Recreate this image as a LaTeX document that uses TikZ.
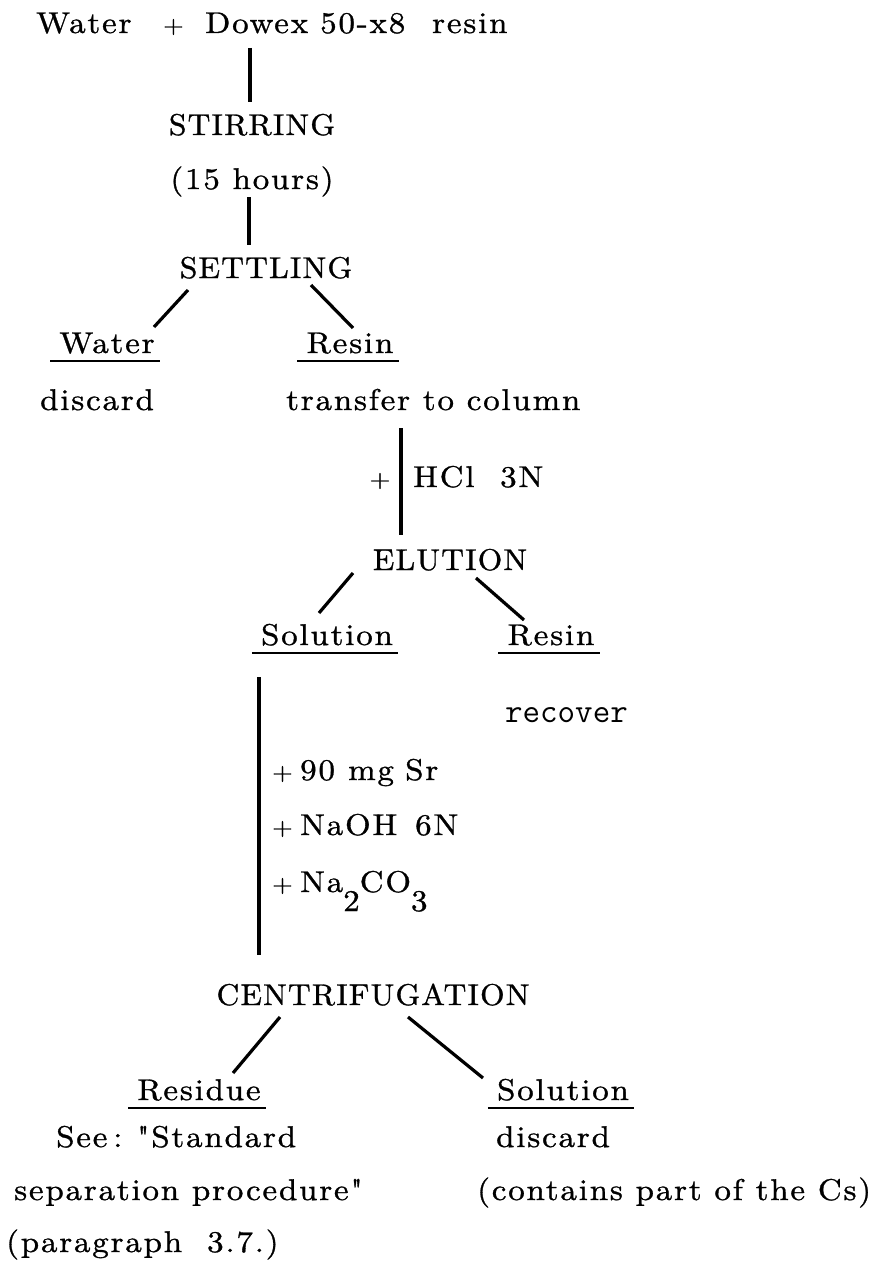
\documentclass[tikz,border=0pt]{standalone}
\usepackage{fontspec}
% wide, slightly heavy typewriter-like faces for the body text and the step headings
\setmainfont{lmroman10-regular.otf}[FakeStretch=1.1,LetterSpace=6,FakeBold=1,Ligatures=TeXOff]
\newfontfamily\headfont{lmroman10-regular.otf}[FakeStretch=1.05,LetterSpace=4,FakeBold=1]
% the small plus sign used before added reagents
\newcommand{\addsign}{{\fontsize{24}{28}\selectfont+}}
\begin{document}
\begin{tikzpicture}[x=1pt,y=-1pt,
  txt/.style={inner sep=0pt,anchor=base,font=\fontsize{30}{35}\selectfont},
  txtl/.style={txt,anchor=base west},
  head/.style={inner sep=0pt,anchor=base,font=\headfont\fontsize{30}{36}\selectfont},
  mono/.style={inner sep=0pt,anchor=base west,font=\ttfamily\fontsize{34}{40}\selectfont},
  link/.style={line width=3.2pt},
  uline/.style={line width=1.8pt}]
\useasboundingbox (0,0) rectangle (875,1279);

% ---- starting material and first steps
\node[txtl] (feed) at (36,33)
  {\makebox[127pt][l]{Water}\makebox[42pt][l]{\addsign}\makebox[115pt][l]{Dowex}\makebox[112pt][l]{50-x8}resin};
\node[head] (stir) at (252,135) {STIRRING};
\node[txt]  (time) at (252,189) {(15 hours)};
\node[head] (settle) at (266,278) {SETTLING};

% ---- settling products
\node[txt]  (water) at (107,353) {Water};
\node[txt]  (resinA) at (350,353) {Resin};
\node[txtl] (discA) at (40,410) {discard};
\node[txtl] (column) at (286,410) {transfer to column};

% ---- elution
\node[txt]  (plusA) at (380,487) {\addsign};
\node[txtl] (hcl) at (413,487) {\makebox[87pt][l]{HCl}3N};
\node[head] (elute) at (450,570) {ELUTION};

% ---- elution products
\node[txt]  (solA) at (327,645) {Solution};
\node[txt]  (resinB) at (551,645) {Resin};
\node[mono] (recov) at (505,722) {recover};

% ---- reagents added to the solution
\node[txtl] (sr) at (272,780)
  {\makebox[28pt][l]{\addsign}\makebox[48pt][l]{90}\makebox[57pt][l]{mg}Sr};
\node[txtl] (naoh) at (272,835)
  {\makebox[28pt][l]{\addsign}\makebox[115pt][l]{NaOH}6N};
\node[txtl] (carb) at (272,892)
  {\makebox[28pt][l]{\addsign}Na\raisebox{-19pt}{2}CO\raisebox{-19pt}{3}};

% ---- centrifugation
\node[head] (centri) at (373,1005) {CENTRIFUGATION};
\node[txt]  (resid) at (199,1100) {Residue};
\node[txt]  (solB) at (563,1100) {Solution};
\node[txtl] (seeA) at (56,1147)
  {\makebox[57pt][l]{See}\makebox[24pt][l]{:}"Standard};
\node[txtl] (seeB) at (14,1200) {separation procedure"};
\node[txtl] (seeC) at (6,1252) {\makebox[201pt][l]{(paragraph}3.7.)};
\node[txtl] (discB) at (496,1147) {discard};
\node[txtl] (cs) at (477,1200) {(contains part of the Cs)};

% ---- underlines of the product labels
\foreach \n in {water,resinA,solA,resinB,resid,solB}
  \draw[uline] ([xshift=-9pt,yshift=-8pt]\n.base west) -- ([xshift=5pt,yshift=-8pt]\n.base east);

% ---- connector end points
\coordinate (v1a) at (250,48);   \coordinate (v1b) at (250,102);
\coordinate (v2a) at (249,197);  \coordinate (v2b) at (249,245);
\coordinate (d1a) at (188,290);  \coordinate (d1b) at (154,327);
\coordinate (d2a) at (311,285);  \coordinate (d2b) at (353,328);
\coordinate (v3a) at (401,428);  \coordinate (v3b) at (401,535);
\coordinate (d3a) at (353,573);  \coordinate (d3b) at (319,613);
\coordinate (d4a) at (476,578);  \coordinate (d4b) at (524,620);
\coordinate (v4a) at (259,677);  \coordinate (v4b) at (259,955);
\coordinate (d5a) at (280,1017); \coordinate (d5b) at (233,1073);
\coordinate (d6a) at (408,1017); \coordinate (d6b) at (483,1078);

\draw[link] (v1a) -- (v1b);
\draw[link] (v2a) -- (v2b);
\draw[link] (d1a) -- (d1b);
\draw[link] (d2a) -- (d2b);
\draw[link] (v3a) -- (v3b);
\draw[link] (d3a) -- (d3b);
\draw[link] (d4a) -- (d4b);
\draw[link,line width=3.8pt] (v4a) -- (v4b);
\draw[link] (d5a) -- (d5b);
\draw[link] (d6a) -- (d6b);
\end{tikzpicture}
\end{document}
